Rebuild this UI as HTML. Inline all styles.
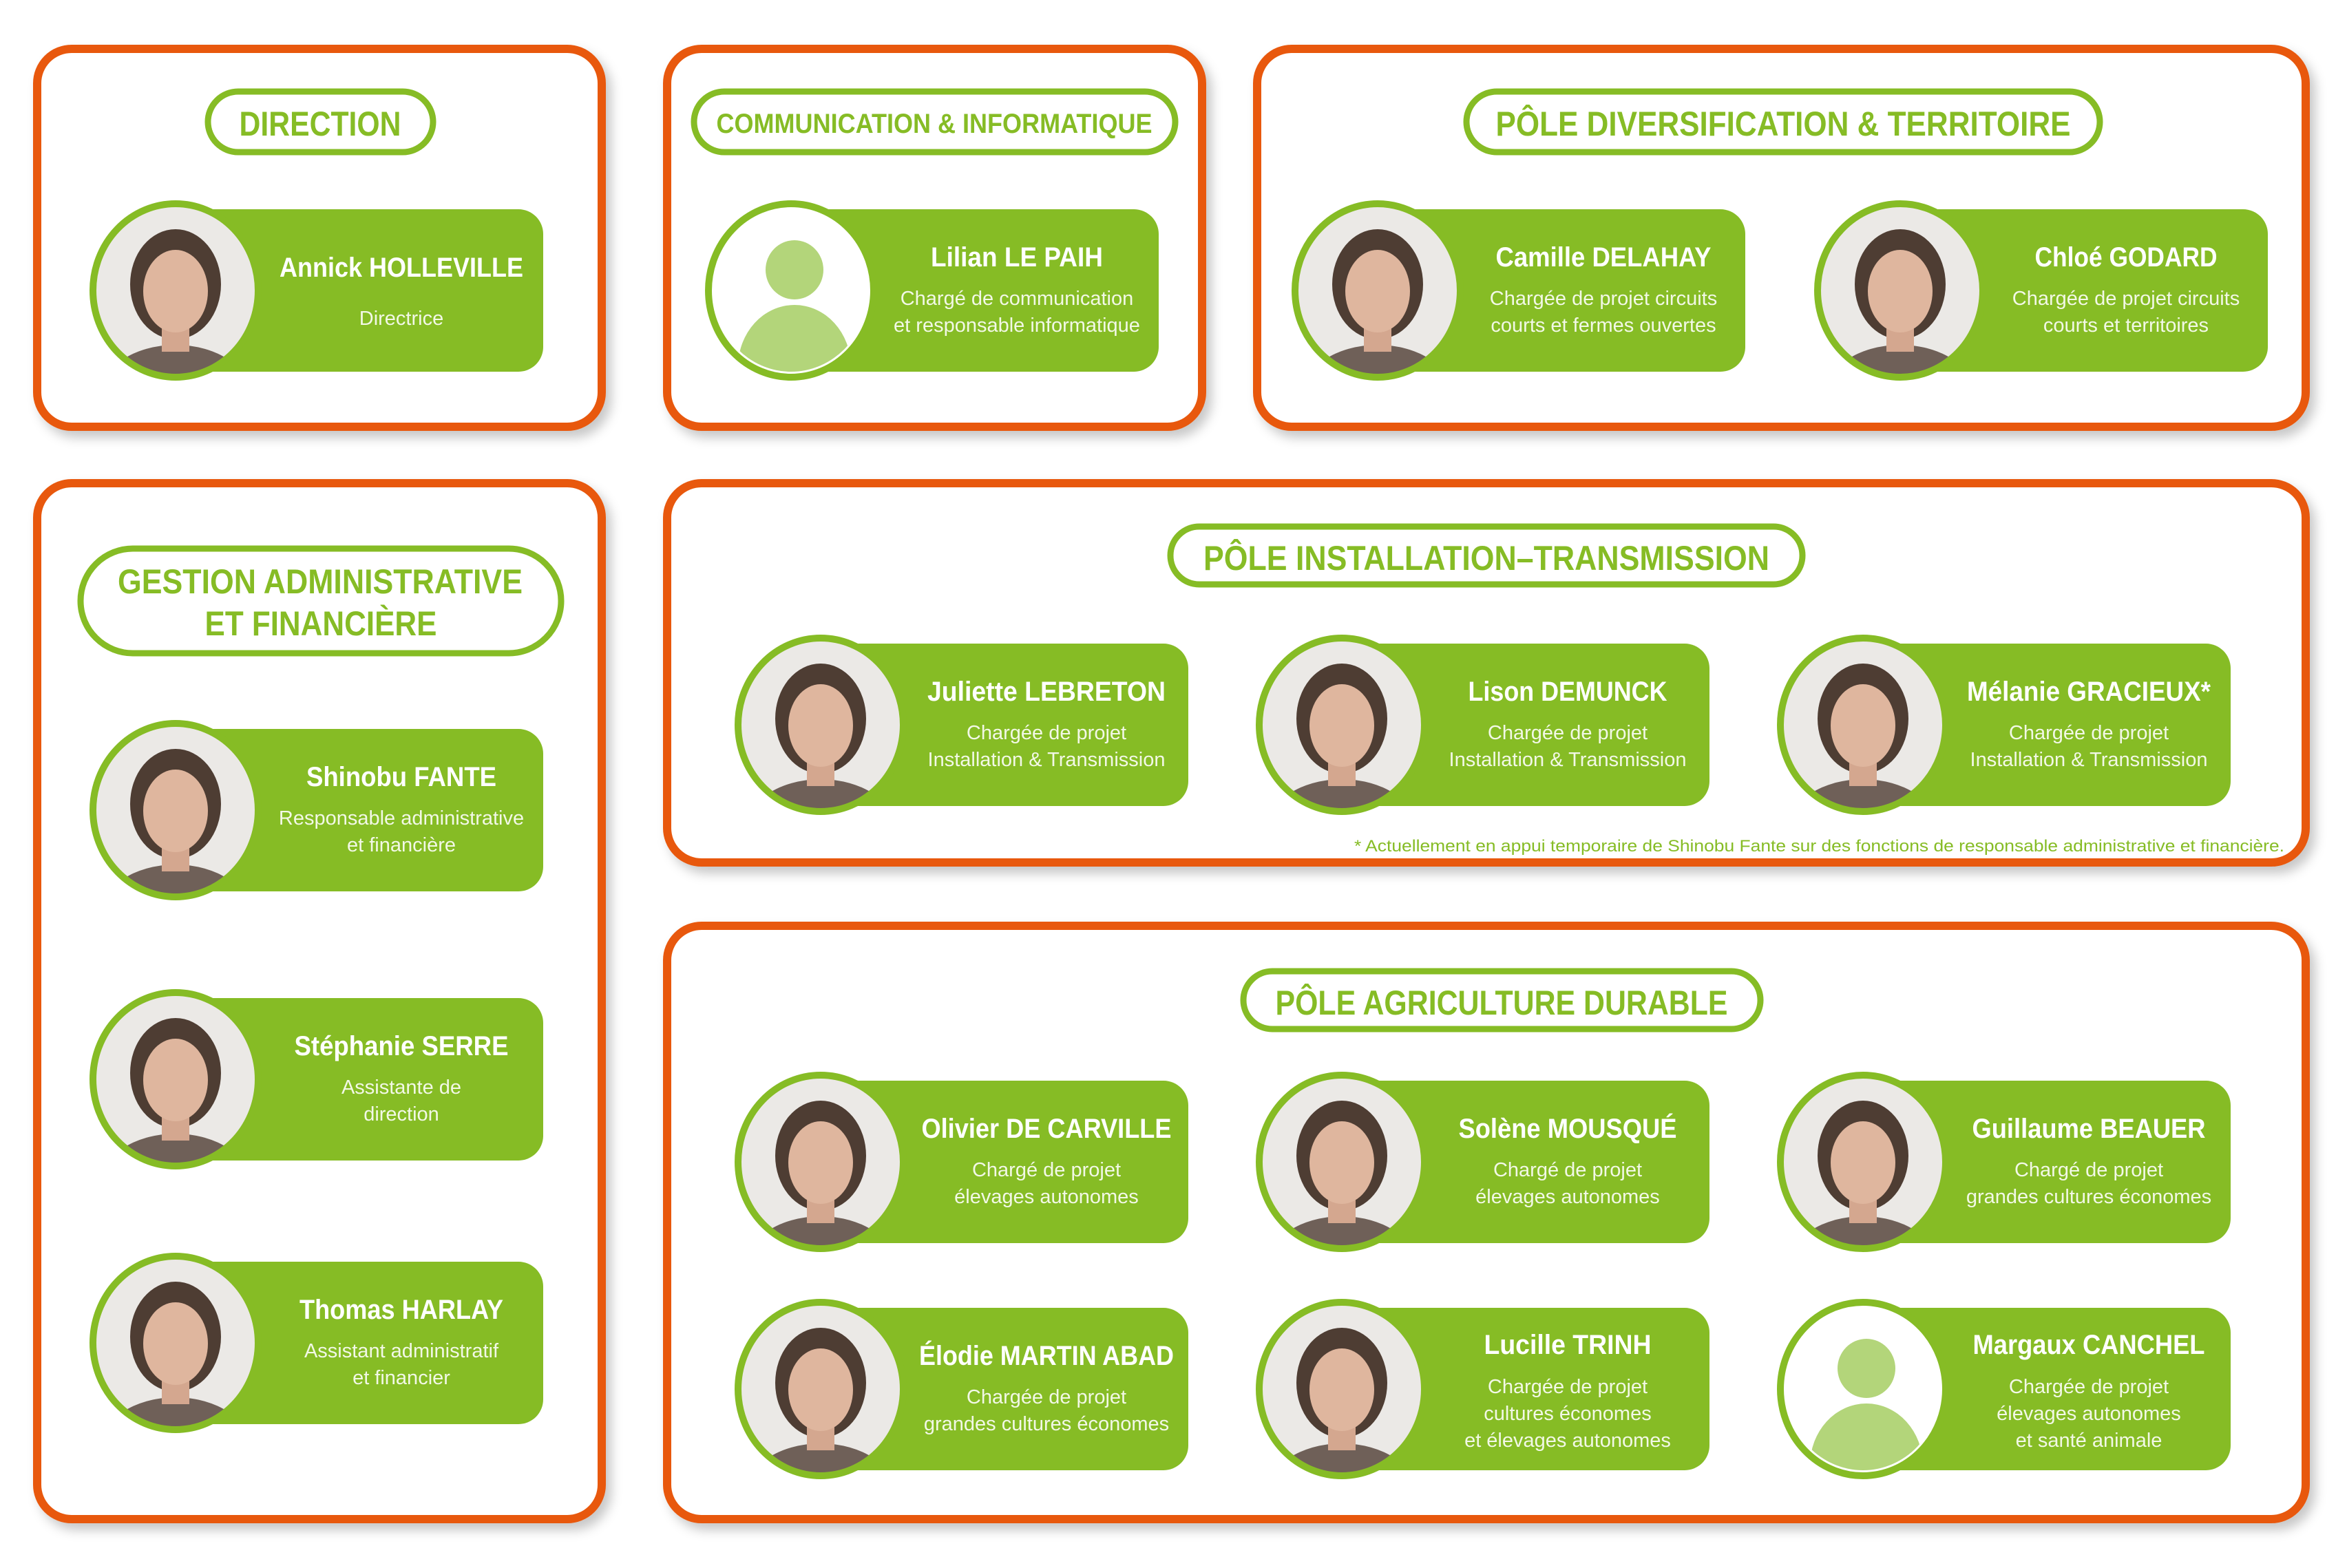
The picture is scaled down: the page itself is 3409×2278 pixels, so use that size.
<!DOCTYPE html>
<html><head><meta charset="utf-8"><style>
html,body{margin:0;padding:0;background:#fff;}
svg{display:block;}
.n{font-family:"Liberation Sans",sans-serif;font-weight:bold;font-size:40px;fill:#fff;text-anchor:middle;}
.s{font-family:"Liberation Sans",sans-serif;font-size:29px;fill:#f2f8e6;text-anchor:middle;}
.t{font-family:"Liberation Sans",sans-serif;font-weight:bold;fill:#86bc25;text-anchor:middle;}
</style></head><body>
<svg width="3409" height="2278" viewBox="0 0 3409 2278" xmlns="http://www.w3.org/2000/svg">
<defs>
<filter id="sh" x="-5%" y="-5%" width="110%" height="115%"><feDropShadow dx="8" dy="10" stdDeviation="8" flood-color="#000" flood-opacity="0.22"/></filter>
<symbol id="p" viewBox="0 0 250 262">
<clipPath id="cp"><ellipse cx="125" cy="131" rx="120" ry="126"/></clipPath>
<g clip-path="url(#cp)">
<rect width="250" height="262" fill="#ebe9e6"/>
<ellipse cx="125" cy="122" rx="66" ry="80" fill="#4e3d33"/>
<ellipse cx="125" cy="285" rx="110" ry="75" fill="#6f6058"/>
<rect x="105" y="170" width="40" height="50" fill="#d4a78f"/>
<ellipse cx="125" cy="132" rx="47" ry="60" fill="#dfb69e"/>
</g>
<ellipse cx="125" cy="131" rx="120" ry="126" fill="none" stroke="#86bc25" stroke-width="10"/>
</symbol>
<symbol id="a" viewBox="0 0 250 262">
<clipPath id="ca"><ellipse cx="125" cy="131" rx="112" ry="118"/></clipPath>
<ellipse cx="125" cy="131" rx="120" ry="126" fill="#fff"/>
<g clip-path="url(#ca)">
<ellipse cx="130" cy="101" rx="42" ry="43" fill="#b3d57a"/>
<ellipse cx="130" cy="242" rx="82" ry="90" fill="#b3d57a"/>
</g>
<ellipse cx="125" cy="131" rx="120" ry="126" fill="none" stroke="#86bc25" stroke-width="10"/>
</symbol>
</defs>

<g fill="#fff" stroke="#e8590c" stroke-width="12" filter="url(#sh)">
<rect x="54" y="71" width="820" height="549" rx="50"/>
<rect x="969" y="71" width="777" height="549" rx="50"/>
<rect x="1826" y="71" width="1523" height="549" rx="50"/>
<rect x="54" y="702" width="820" height="1505" rx="50"/>
<rect x="969" y="702" width="2380" height="551" rx="50"/>
<rect x="969" y="1345" width="2380" height="862" rx="50"/>
</g>

<g fill="#fff" stroke="#86bc25" stroke-width="9">
<rect x="302" y="133" width="327" height="88" rx="44"/>
<rect x="1008" y="133" width="699" height="88" rx="44"/>
<rect x="2130" y="133" width="920" height="88" rx="44"/>
<rect x="117" y="797" width="698" height="152" rx="76"/>
<rect x="1700" y="765" width="918" height="84" rx="42"/>
<rect x="1806" y="1411" width="751" height="84" rx="42"/>
</g>
<text class="t" x="465" y="197" font-size="50" textLength="235" lengthAdjust="spacingAndGlyphs">DIRECTION</text>
<text class="t" x="1357" y="193" font-size="40" textLength="633" lengthAdjust="spacingAndGlyphs">COMMUNICATION &amp; INFORMATIQUE</text>
<text class="t" x="2590" y="197" font-size="50" textLength="835" lengthAdjust="spacingAndGlyphs">PÔLE DIVERSIFICATION &amp; TERRITOIRE</text>
<text class="t" x="465" y="862" font-size="50" textLength="588" lengthAdjust="spacingAndGlyphs">GESTION ADMINISTRATIVE</text>
<text class="t" x="466" y="923" font-size="50" textLength="337" lengthAdjust="spacingAndGlyphs">ET FINANCIÈRE</text>
<text class="t" x="2159" y="828" font-size="50" textLength="822" lengthAdjust="spacingAndGlyphs">PÔLE INSTALLATION–TRANSMISSION</text>
<text class="t" x="2181" y="1474" font-size="50" textLength="657" lengthAdjust="spacingAndGlyphs">PÔLE AGRICULTURE DURABLE</text>

<g transform="translate(130,304)"><rect x="125" width="534" height="236" rx="36" fill="#86bc25"/><use href="#p" y="-13" width="250" height="262"/>
<text class="n" x="453" y="98" textLength="354" lengthAdjust="spacingAndGlyphs">Annick HOLLEVILLE</text><text class="s" x="453" y="168">Directrice</text></g>

<g transform="translate(1024,304)"><rect x="125" width="534" height="236" rx="36" fill="#86bc25"/><use href="#a" y="-13" width="250" height="262"/>
<text class="n" x="453" y="83" textLength="250" lengthAdjust="spacingAndGlyphs">Lilian LE PAIH</text><text class="s" x="453" y="139">Chargé de communication</text><text class="s" x="453" y="178">et responsable informatique</text></g>

<g transform="translate(1876,304)"><rect x="125" width="534" height="236" rx="36" fill="#86bc25"/><use href="#p" y="-13" width="250" height="262"/>
<text class="n" x="453" y="83" textLength="313" lengthAdjust="spacingAndGlyphs">Camille DELAHAY</text><text class="s" x="453" y="139">Chargée de projet circuits</text><text class="s" x="453" y="178">courts et fermes ouvertes</text></g>

<g transform="translate(2635,304)"><rect x="125" width="534" height="236" rx="36" fill="#86bc25"/><use href="#p" y="-13" width="250" height="262"/>
<text class="n" x="453" y="83" textLength="265" lengthAdjust="spacingAndGlyphs">Chloé GODARD</text><text class="s" x="453" y="139">Chargée de projet circuits</text><text class="s" x="453" y="178">courts et territoires</text></g>

<g transform="translate(130,1059)"><rect x="125" width="534" height="236" rx="36" fill="#86bc25"/><use href="#p" y="-13" width="250" height="262"/>
<text class="n" x="453" y="83" textLength="276" lengthAdjust="spacingAndGlyphs">Shinobu FANTE</text><text class="s" x="453" y="139">Responsable administrative</text><text class="s" x="453" y="178">et financière</text></g>

<g transform="translate(130,1450)"><rect x="125" width="534" height="236" rx="36" fill="#86bc25"/><use href="#p" y="-13" width="250" height="262"/>
<text class="n" x="453" y="83" textLength="311" lengthAdjust="spacingAndGlyphs">Stéphanie SERRE</text><text class="s" x="453" y="139">Assistante de</text><text class="s" x="453" y="178">direction</text></g>

<g transform="translate(130,1833)"><rect x="125" width="534" height="236" rx="36" fill="#86bc25"/><use href="#p" y="-13" width="250" height="262"/>
<text class="n" x="453" y="83" textLength="296" lengthAdjust="spacingAndGlyphs">Thomas HARLAY</text><text class="s" x="453" y="139">Assistant administratif</text><text class="s" x="453" y="178">et financier</text></g>

<g transform="translate(1067,935)"><rect x="125" width="534" height="236" rx="36" fill="#86bc25"/><use href="#p" y="-13" width="250" height="262"/>
<text class="n" x="453" y="83" textLength="346" lengthAdjust="spacingAndGlyphs">Juliette LEBRETON</text><text class="s" x="453" y="139">Chargée de projet</text><text class="s" x="453" y="178">Installation &amp; Transmission</text></g>

<g transform="translate(1824,935)"><rect x="125" width="534" height="236" rx="36" fill="#86bc25"/><use href="#p" y="-13" width="250" height="262"/>
<text class="n" x="453" y="83" textLength="289" lengthAdjust="spacingAndGlyphs">Lison DEMUNCK</text><text class="s" x="453" y="139">Chargée de projet</text><text class="s" x="453" y="178">Installation &amp; Transmission</text></g>

<g transform="translate(2581,935)"><rect x="125" width="534" height="236" rx="36" fill="#86bc25"/><use href="#p" y="-13" width="250" height="262"/>
<text class="n" x="453" y="83" textLength="354" lengthAdjust="spacingAndGlyphs">Mélanie GRACIEUX*</text><text class="s" x="453" y="139">Chargée de projet</text><text class="s" x="453" y="178">Installation &amp; Transmission</text></g>

<text x="3318" y="1237" font-family="Liberation Sans, sans-serif" font-size="24" fill="#86bc25" text-anchor="end" textLength="1351" lengthAdjust="spacingAndGlyphs">* Actuellement en appui temporaire de Shinobu Fante sur des fonctions de responsable administrative et financière.</text>

<g transform="translate(1067,1570)"><rect x="125" width="534" height="236" rx="36" fill="#86bc25"/><use href="#p" y="-13" width="250" height="262"/>
<text class="n" x="453" y="83" textLength="363" lengthAdjust="spacingAndGlyphs">Olivier DE CARVILLE</text><text class="s" x="453" y="139">Chargé de projet</text><text class="s" x="453" y="178">élevages autonomes</text></g>

<g transform="translate(1824,1570)"><rect x="125" width="534" height="236" rx="36" fill="#86bc25"/><use href="#p" y="-13" width="250" height="262"/>
<text class="n" x="453" y="83" textLength="317" lengthAdjust="spacingAndGlyphs">Solène MOUSQUÉ</text><text class="s" x="453" y="139">Chargé de projet</text><text class="s" x="453" y="178">élevages autonomes</text></g>

<g transform="translate(2581,1570)"><rect x="125" width="534" height="236" rx="36" fill="#86bc25"/><use href="#p" y="-13" width="250" height="262"/>
<text class="n" x="453" y="83" textLength="339" lengthAdjust="spacingAndGlyphs">Guillaume BEAUER</text><text class="s" x="453" y="139">Chargé de projet</text><text class="s" x="453" y="178">grandes cultures économes</text></g>

<g transform="translate(1067,1900)"><rect x="125" width="534" height="236" rx="36" fill="#86bc25"/><use href="#p" y="-13" width="250" height="262"/>
<text class="n" x="453" y="83" textLength="370" lengthAdjust="spacingAndGlyphs">Élodie MARTIN ABAD</text><text class="s" x="453" y="139">Chargée de projet</text><text class="s" x="453" y="178">grandes cultures économes</text></g>

<g transform="translate(1824,1900)"><rect x="125" width="534" height="236" rx="36" fill="#86bc25"/><use href="#p" y="-13" width="250" height="262"/>
<text class="n" x="453" y="67" textLength="243" lengthAdjust="spacingAndGlyphs">Lucille TRINH</text><text class="s" x="453" y="124">Chargée de projet</text><text class="s" x="453" y="163">cultures économes</text><text class="s" x="453" y="202">et élevages autonomes</text></g>

<g transform="translate(2581,1900)"><rect x="125" width="534" height="236" rx="36" fill="#86bc25"/><use href="#a" y="-13" width="250" height="262"/>
<text class="n" x="453" y="67" textLength="337" lengthAdjust="spacingAndGlyphs">Margaux CANCHEL</text><text class="s" x="453" y="124">Chargée de projet</text><text class="s" x="453" y="163">élevages autonomes</text><text class="s" x="453" y="202">et santé animale</text></g>
</svg>
</body></html>
